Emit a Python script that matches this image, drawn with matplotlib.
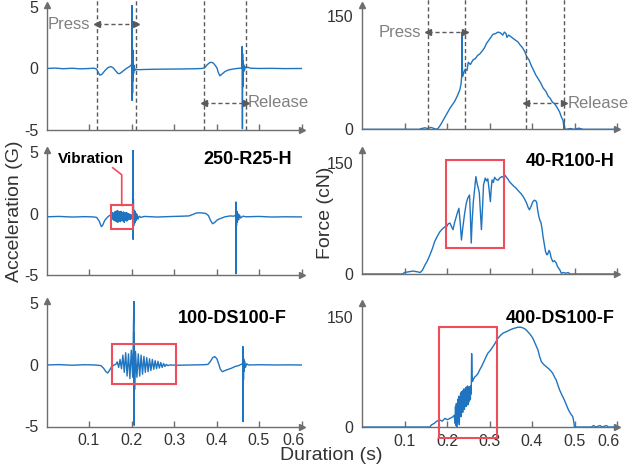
import numpy as np
import matplotlib
matplotlib.use('Agg')
import matplotlib.pyplot as plt
from matplotlib.patches import Rectangle
from matplotlib.transforms import ScaledTranslation

plt.rcParams['font.family'] = ['Liberation Sans', 'DejaVu Sans']

# ---------------- data (time in s) ----------------
# acceleration (G), reference trace with press / release markers
acc_ref = [(0.000, 0.00), (0.020, 0.03), (0.040, -0.02), (0.060, 0.02), (0.080, -0.03), (0.100, 0.00),
           (0.112, 0.02), (0.118, -0.05), (0.122, -0.35), (0.126, -0.55), (0.131, -0.45), (0.138, -0.15),
           (0.145, 0.08), (0.152, 0.15), (0.157, 0.05), (0.163, -0.20), (0.168, -0.40), (0.172, -0.42),
           (0.177, -0.30), (0.184, -0.10), (0.190, 0.05), (0.195, 0.15), (0.199, 0.25), (0.2005, 0.40),
           (0.2010, 5.50), (0.2015, -2.60), (0.2020, 2.80), (0.2025, -2.00), (0.2030, 1.50), (0.2035, -1.00),
           (0.2040, 0.70), (0.2050, -0.40), (0.2060, 0.25), (0.2080, -0.15), (0.2110, -0.05), (0.2150, -0.10),
           (0.230, -0.08), (0.260, -0.06), (0.290, -0.05), (0.320, -0.04), (0.350, -0.02), (0.365, 0.00),
           (0.372, 0.05), (0.378, 0.30), (0.384, 0.48), (0.389, 0.50), (0.393, 0.42), (0.397, 0.25),
           (0.401, 0.05), (0.404, -0.30), (0.408, -0.60), (0.413, -0.45), (0.420, -0.25), (0.428, -0.12),
           (0.438, -0.05), (0.448, 0.00), (0.455, 0.02), (0.459, 0.05), (0.4600, 0.08), (0.4605, 1.80),
           (0.4610, -4.90), (0.4615, 1.20), (0.4620, -1.50), (0.4625, 0.60), (0.4630, -0.45), (0.4640, 0.30),
           (0.4655, -0.20), (0.4675, 0.12), (0.470, 0.05), (0.474, 0.10), (0.480, 0.02), (0.500, 0.00),
           (0.530, 0.01), (0.560, -0.01), (0.600, 0.00)]

# acceleration (G), 250-R25-H
acc_r25 = [(0.000, -0.25), (0.030, -0.22), (0.060, -0.27), (0.090, -0.24), (0.110, -0.26), (0.118, -0.30),
           (0.124, -0.60), (0.129, -1.05), (0.132, -0.95), (0.137, -0.55), (0.143, -0.30), (0.148, -0.15),
           (0.152, -0.10), (0.1545, 0.10), (0.156, -0.45), (0.1575, 0.05), (0.159, -0.55), (0.1605, 0.15),
           (0.162, -0.60), (0.1635, 0.20), (0.165, -0.65), (0.1665, 0.25), (0.168, -0.70), (0.1695, 0.20),
           (0.171, -0.60), (0.1725, 0.15), (0.174, -0.65), (0.1755, 0.20), (0.177, -0.55), (0.1785, 0.10),
           (0.180, -0.60), (0.1815, 0.15), (0.183, -0.70), (0.1845, 0.05), (0.186, -0.55), (0.1875, 0.10),
           (0.189, -0.60), (0.1905, 0.05), (0.192, -0.50), (0.1935, 0.00), (0.195, -0.45), (0.1965, -0.05),
           (0.198, -0.45), (0.1995, -0.10), (0.201, -0.40), (0.2025, -0.15), (0.2035, 5.60), (0.2040, -2.10),
           (0.2045, 1.20), (0.2050, -1.00), (0.206, 0.30), (0.207, -0.80), (0.208, 0.20), (0.209, -0.70),
           (0.210, 0.05), (0.211, -0.55), (0.213, -0.05), (0.215, -0.45), (0.218, -0.20), (0.222, -0.30),
           (0.230, -0.22), (0.260, -0.27), (0.290, -0.23), (0.320, -0.20), (0.335, -0.18), (0.345, -0.05),
           (0.352, 0.05), (0.360, 0.08), (0.368, 0.05), (0.375, 0.02), (0.381, -0.15), (0.386, -0.55),
           (0.391, -0.82), (0.396, -0.70), (0.402, -0.50), (0.410, -0.38), (0.420, -0.25), (0.432, -0.18),
           (0.440, -0.20), (0.445, -0.15), (0.4455, 0.96), (0.4460, -4.90), (0.4465, 0.60), (0.4470, -1.00),
           (0.448, 0.20), (0.449, -0.70), (0.4505, 0.00), (0.452, -0.50), (0.454, -0.10), (0.457, -0.35),
           (0.462, -0.20), (0.470, -0.25), (0.500, -0.22), (0.530, -0.27), (0.560, -0.25), (0.600, -0.26)]

# acceleration (G), 100-DS100-F
acc_ds100 = [(0.000, 0.00), (0.030, 0.03), (0.060, -0.02), (0.090, 0.02), (0.115, 0.00), (0.128, -0.05),
             (0.134, -0.25), (0.140, -0.55), (0.144, -0.65), (0.148, -0.45), (0.153, -0.15), (0.158, -0.02),
             (0.163, 0.05), (0.1665, 0.25), (0.1698, -0.20), (0.1731, 0.45), (0.1764, -0.30), (0.1797, 0.80),
             (0.1830, -0.60), (0.1863, 1.00), (0.1896, -0.90), (0.1929, 0.90), (0.1962, -1.10), (0.1995, 1.20),
             (0.2028, -1.00), (0.2058, 5.60), (0.2062, -4.90), (0.2066, 2.60), (0.2072, -2.00), (0.2094, 1.10),
             (0.2127, -1.00), (0.2160, 0.90), (0.2193, -0.90), (0.2226, 0.80), (0.2259, -0.75), (0.2292, 0.70),
             (0.2325, -0.60), (0.2358, 0.60), (0.2391, -0.55), (0.2424, 0.50), (0.2457, -0.45), (0.2490, 0.45),
             (0.2523, -0.35), (0.2556, 0.35), (0.2589, -0.30), (0.2622, 0.30), (0.2655, -0.25), (0.2688, 0.20),
             (0.2721, -0.20), (0.2754, 0.12), (0.2787, -0.12), (0.2820, 0.05), (0.2853, -0.05), (0.290, 0.00),
             (0.310, -0.02), (0.340, 0.00), (0.370, 0.02), (0.380, 0.05), (0.386, 0.30), (0.391, 0.60),
             (0.396, 0.68), (0.401, 0.50), (0.405, 0.10), (0.409, -0.35), (0.414, -0.55), (0.420, -0.45),
             (0.428, -0.35), (0.436, -0.25), (0.444, -0.12), (0.452, -0.05), (0.458, 0.05), (0.4615, 0.10),
             (0.4620, 1.50), (0.4625, -4.60), (0.4630, 1.00), (0.4635, -1.20), (0.4640, 0.50), (0.4650, -0.50),
             (0.466, 0.30), (0.468, -0.20), (0.471, 0.10), (0.475, 0.00), (0.500, 0.02), (0.540, 0.00),
             (0.570, 0.01), (0.600, 0.00)]

# force (cN), reference trace
force_ref = [(0.000, 0), (0.050, 0), (0.100, 0), (0.135, 0), (0.140, 1), (0.148, 2), (0.155, 1), (0.162, 2.5),
             (0.170, 1), (0.175, 0), (0.179, 1.3), (0.185, 6), (0.191, 12), (0.199, 20), (0.207, 28), (0.213, 33),
             (0.218, 37), (0.224, 44), (0.230, 52), (0.233, 60), (0.2345, 70), (0.2350, 129), (0.2355, 110),
             (0.236, 85), (0.237, 70), (0.240, 76), (0.243, 80), (0.247, 78), (0.250, 89), (0.255, 86),
             (0.261, 92), (0.267, 94), (0.272, 98), (0.277, 100), (0.283, 104), (0.288, 108), (0.293, 114),
             (0.298, 118), (0.303, 122), (0.308, 126), (0.314, 127), (0.320, 129), (0.326, 128), (0.331, 125),
             (0.335, 129), (0.339, 127), (0.341, 122), (0.345, 125), (0.351, 122.6), (0.357, 120), (0.362, 118),
             (0.367, 116), (0.372, 112), (0.378, 108), (0.383, 103), (0.388, 96), (0.393, 92), (0.398, 85),
             (0.404, 78), (0.409, 72), (0.414, 67.5), (0.420, 62), (0.426, 55), (0.433, 50), (0.438, 44),
             (0.443, 41), (0.448, 36), (0.453, 34), (0.458, 30), (0.462, 26), (0.465, 23), (0.468, 18),
             (0.471, 14), (0.473, 12), (0.4745, 5), (0.475, 9), (0.4755, 0), (0.476, 6), (0.477, 0),
             (0.480, 0), (0.490, 1), (0.500, 0), (0.510, 1.5), (0.520, 0), (0.600, 0)]

# force (cN), 40-R100-H
force_r100 = [(0.000, 0), (0.050, 0), (0.095, 0), (0.100, 2), (0.110, 3), (0.120, 4), (0.130, 3), (0.137, 2),
              (0.142, 5), (0.148, 12), (0.154, 18), (0.160, 26), (0.166, 35), (0.171, 44), (0.177, 51),
              (0.183, 57), (0.189, 61), (0.195, 64), (0.199, 64), (0.203, 68), (0.207, 69), (0.210, 65),
              (0.214, 60), (0.218, 70), (0.222, 78), (0.225, 84), (0.228, 89), (0.231, 70), (0.234, 46),
              (0.237, 62), (0.241, 80), (0.245, 95), (0.249, 103), (0.253, 107), (0.255, 80), (0.257, 42),
              (0.259, 70), (0.262, 98), (0.265, 115), (0.268, 132), (0.271, 122), (0.273, 118), (0.276, 110),
              (0.278, 90), (0.281, 60), (0.284, 95), (0.286, 121), (0.290, 130), (0.293, 126), (0.296, 129),
              (0.299, 115), (0.302, 98), (0.304, 115), (0.306, 127.5), (0.309, 124), (0.312, 131), (0.316, 128),
              (0.320, 127), (0.324, 130), (0.329, 132), (0.333, 131), (0.336, 134), (0.340, 131), (0.344, 128),
              (0.347, 125), (0.352, 122), (0.357, 119), (0.363, 116), (0.369, 112), (0.374, 109), (0.379, 105),
              (0.384, 100), (0.388, 95), (0.391, 90), (0.394, 87), (0.398, 92), (0.402, 98), (0.406, 100),
              (0.409, 99), (0.411, 97), (0.413, 88), (0.416, 78), (0.419, 72), (0.421, 70), (0.424, 60),
              (0.426, 50.6), (0.429, 40), (0.432, 30), (0.435, 26), (0.437, 27), (0.440, 32), (0.442, 30),
              (0.445, 22), (0.449, 16.7), (0.453, 18), (0.457, 15), (0.460, 10), (0.463, 7.7), (0.466, 5),
              (0.469, 1), (0.474, 2), (0.480, 1), (0.485, 2), (0.490, 0), (0.600, 0)]

# force (cN), 400-DS100-F
force_ds100 = [(0.000, 0), (0.050, 0), (0.100, 0), (0.150, 0), (0.160, 0), (0.163, 2.7), (0.170, 5), (0.176, 8),
               (0.183, 9.5), (0.189, 8), (0.195, 11.8), (0.201, 10), (0.207, 11.8), (0.211, 13), (0.214, 14),
               (0.217, 16), (0.219, 5), (0.220, 28), (0.221, 2), (0.222, 32), (0.223, 0), (0.224, 30), (0.225, 6),
               (0.226, 38), (0.227, 10), (0.228, 42), (0.229, 3), (0.230, 40), (0.231, 18), (0.232, 46),
               (0.233, 14), (0.234, 48), (0.235, 22), (0.236, 45), (0.237, 20), (0.238, 50), (0.239, 26),
               (0.240, 52), (0.241, 24), (0.242, 50), (0.243, 30), (0.244, 54), (0.245, 28), (0.246, 52),
               (0.247, 32), (0.248, 56), (0.249, 30), (0.250, 52), (0.251, 34), (0.252, 55), (0.253, 36),
               (0.254, 52), (0.255, 38), (0.256, 56), (0.257, 45), (0.258, 100), (0.259, 70), (0.260, 62),
               (0.261, 64), (0.265, 68), (0.269, 70), (0.273, 73), (0.277, 78), (0.281, 82), (0.285, 87),
               (0.289, 92), (0.293, 97), (0.296, 100.5), (0.300, 103), (0.304, 106), (0.308, 109.5), (0.312, 113),
               (0.316, 117), (0.320, 121), (0.326, 125), (0.332, 128), (0.340, 130), (0.347, 132), (0.355, 134),
               (0.361, 135), (0.367, 136), (0.373, 136), (0.379, 135), (0.385, 133), (0.390, 130), (0.396, 126),
               (0.402, 121), (0.408, 113), (0.414, 105), (0.418, 96), (0.422, 89), (0.428, 85), (0.434, 82),
               (0.440, 79), (0.445, 76), (0.449, 73), (0.453, 68), (0.457, 64), (0.461, 57), (0.465, 50.5),
               (0.470, 44), (0.476, 37), (0.481, 30), (0.486, 23), (0.491, 18), (0.496, 14), (0.498, 8),
               (0.500, 0), (0.510, 0), (0.540, 0), (0.545, 2), (0.550, 0), (0.560, 2), (0.565, 0), (0.575, 2),
               (0.580, 0), (0.600, 0)]

# press / release markers (s)
acc_marks = [0.118, 0.211, 0.371, 0.469]
force_marks = [0.156, 0.242, 0.387, 0.475]

# highlight boxes (t0, t1, y0, y1)
box_r25 = (0.152, 0.203, -1.25, 0.68)
box_ds100_acc = (0.155, 0.304, -1.58, 1.70)
box_r100 = (0.197, 0.333, 35, 154.7)
box_ds100_force = (0.181, 0.318, -15, 136)

x_ticks = [0.1, 0.2, 0.3, 0.4, 0.5, 0.6]
x_ticklabels = ['0.1', '0.2', '0.3', '0.4', '0.5', '0.6']

# ---------------- styling ----------------
BLUE = '#1f74c0'
RED = '#ee4d5b'
AXIS_GRAY = '#6e6e6e'
DASH_GRAY = '#5a5a5a'
TEXT_GRAY = '#808080'
DARK = '#333333'

W, H = 631, 468
fig = plt.figure(figsize=(W / 100, H / 100), dpi=100)


def px_axes(left, right, top, bottom):
    return fig.add_axes([left / W, 1 - bottom / H, (right - left) / W, (bottom - top) / H])


def style_axes(ax, ylim, yticks, yticklabels, show_xlabels):
    ax.set_xlim(0, 0.6)
    ax.set_ylim(*ylim)
    for s in ['top', 'right']:
        ax.spines[s].set_visible(False)
    for s in ['left', 'bottom']:
        ax.spines[s].set_color(AXIS_GRAY)
        ax.spines[s].set_linewidth(1.0)
    ax.set_xticks(x_ticks)
    ax.set_yticks(yticks)
    ax.set_yticklabels(yticklabels)
    ax.tick_params(axis='x', direction='in', length=4, width=1, color=AXIS_GRAY,
                   labelsize=11.5, labelcolor=DARK, pad=5)
    ax.tick_params(axis='y', length=0, labelsize=11.5, labelcolor=DARK, pad=6)
    if show_xlabels:
        ax.set_xticklabels(x_ticklabels)
        last = ax.get_xticklabels()[-1]
        last.set_transform(last.get_transform() + ScaledTranslation(-8 / 100, 0, fig.dpi_scale_trans))
    else:
        ax.set_xticklabels([])
    # arrow heads on the axes
    ax.plot(1, 0, marker='>', ms=5, color=AXIS_GRAY, transform=ax.transAxes, clip_on=False)
    ax.plot(0, 1, marker='^', ms=5, color=AXIS_GRAY, transform=ax.transAxes, clip_on=False)


def draw_trace(ax, pairs):
    t = [p[0] for p in pairs]
    v = [p[1] for p in pairs]
    ax.plot(t, v, color=BLUE, lw=1.0)


def draw_box(ax, box):
    t0, t1, y0, y1 = box
    ax.add_patch(Rectangle((t0, y0), t1 - t0, y1 - y0, fill=False, ec=RED, lw=1.5, clip_on=False, zorder=5))


def draw_span(ax, x0, x1, y):
    ax.plot([x0, x1], [y, y], ls=(0, (3, 2)), color=DASH_GRAY, lw=1.0)
    ax.plot([x0], [y], marker='<', ms=4.5, color=DASH_GRAY)
    ax.plot([x1], [y], marker='>', ms=4.5, color=DASH_GRAY)


# left column: acceleration, right column: force
acc_rows = [(4.5, 130), (150, 275), (301, 426.5)]
force_rows = [(5, 129.3), (150, 274), (303, 427)]
force_top = [165, 168, 169]

axL = [px_axes(46.5, 301.5, t, b) for t, b in acc_rows]
axR = [px_axes(362, 617, t, b) for t, b in force_rows]

for i, ax in enumerate(axL):
    style_axes(ax, (-5, 5.2), [-5, 0, 5], ['-5', '0', '5'], i == 2)
for i, ax in enumerate(axR):
    style_axes(ax, (0, force_top[i]), [0, 150], ['0', '150'], i == 2)

# row 1: reference with press / release
draw_trace(axL[0], acc_ref)
for m in acc_marks:
    axL[0].axvline(m, color=DASH_GRAY, ls=(0, (3, 2)), lw=1.0, ymin=0, ymax=1.05, clip_on=False)
draw_span(axL[0], acc_marks[0], acc_marks[1], 3.6)
draw_span(axL[0], acc_marks[2], acc_marks[3], -2.78)
axL[0].text(0.102, 3.6, 'Press', ha='right', va='center', fontsize=12, color=TEXT_GRAY)
axL[0].text(0.474, -2.78, 'Release', ha='left', va='center', fontsize=12, color=TEXT_GRAY)

draw_trace(axR[0], force_ref)
for m in force_marks:
    axR[0].axvline(m, color=DASH_GRAY, ls=(0, (3, 2)), lw=1.0, ymin=0, ymax=1.05, clip_on=False)
draw_span(axR[0], force_marks[0], force_marks[1], 128.5)
draw_span(axR[0], force_marks[2], force_marks[3], 34.4)
axR[0].text(0.140, 128.5, 'Press', ha='right', va='center', fontsize=12, color=TEXT_GRAY)
axR[0].text(0.484, 34.4, 'Release', ha='left', va='center', fontsize=12, color=TEXT_GRAY)

# row 2
draw_trace(axL[1], acc_r25)
draw_box(axL[1], box_r25)
axL[1].plot([0.156, 0.177, 0.177], [3.75, 3.18, box_r25[3]], color=RED, lw=1.2)
axL[1].text(0.1035, 4.47, 'Vibration', ha='center', va='center', fontsize=11, fontweight='bold', color='black')
axL[1].text(0.578, 4.4, '250-R25-H', ha='right', va='center', fontsize=13, fontweight='bold', color='black')

draw_trace(axR[1], force_r100)
draw_box(axR[1], box_r100)
axR[1].text(0.594, 152.6, '40-R100-H', ha='right', va='center', fontsize=13, fontweight='bold', color='black')

# row 3
draw_trace(axL[2], acc_ds100)
draw_box(axL[2], box_ds100_acc)
axL[2].text(0.566, 3.8, '100-DS100-F', ha='right', va='center', fontsize=13, fontweight='bold', color='black')

draw_trace(axR[2], force_ds100)
draw_box(axR[2], box_ds100_force)
axR[2].text(0.594, 148, '400-DS100-F', ha='right', va='center', fontsize=13, fontweight='bold', color='black')

# shared labels
fig.text(15 / W, 1 - 211 / H, 'Acceleration (G)', rotation=90, ha='center', va='center', fontsize=14, color=DARK)
fig.text(326 / W, 1 - 212.5 / H, 'Force (cN)', rotation=90, ha='center', va='center', fontsize=14, color=DARK)
fig.text(331 / W, 1 - 456 / H, 'Duration (s)', ha='center', va='center', fontsize=14, color=DARK)

fig.savefig('out.png', dpi=100)
